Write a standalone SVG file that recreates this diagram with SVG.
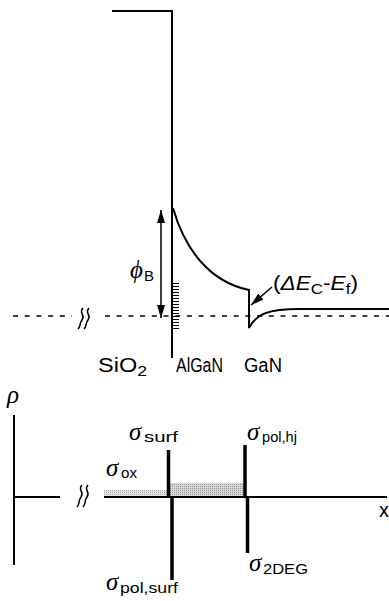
<svg xmlns="http://www.w3.org/2000/svg" width="389" height="601" viewBox="0 0 389 601">
<style>
.ln{fill:none;stroke:#000;stroke-width:2}
.thin{fill:none;stroke:#000;stroke-width:1.5}
.dash{fill:none;stroke:#000;stroke-width:1.5;stroke-dasharray:5 6.7}
.bar{fill:none;stroke:#000;stroke-width:3.5}
.tick{stroke:#000;stroke-width:1}
.t{font-family:"Liberation Sans",Arial,sans-serif;font-size:20px;fill:#000}
.s{font-family:"Liberation Sans",Arial,sans-serif;font-size:15px;fill:#000}
.g{font-family:"Liberation Serif","DejaVu Serif",serif;font-style:italic;font-size:25px;fill:#000}
.i{font-style:italic}
</style>
<defs>
<marker id="ah" viewBox="0 0 13 8" refX="13" refY="4" markerWidth="13" markerHeight="8" markerUnits="userSpaceOnUse" orient="auto">
<path d="M0,0 L13,4 L0,8 Z" fill="#000"/>
</marker>
<pattern id="dots1" width="2" height="2" patternUnits="userSpaceOnUse">
<rect width="2" height="2" fill="#e4e4e4"/><rect width="1" height="1" fill="#a8a8a8"/>
</pattern>
<pattern id="dots2" width="2" height="2" patternUnits="userSpaceOnUse">
<rect width="2" height="2" fill="#d8d8d8"/><rect width="1" height="1" fill="#999"/>
</pattern>
</defs>

<g id="band-diagram">
<path class="ln" d="M112,11 H172 V358"/>
<path class="ln" d="M173,208 C185,250 210,282 249,290 V328 C256,314 268,309 300,309 H389"/>
<g id="fermi">
<path class="dash" d="M13,316 H72"/>
<path class="dash" d="M105,316 H389"/>
<path class="thin" d="M83,308 C78,313 86,315 82,320 C79,324 81,326 78,329"/>
<path class="thin" d="M89,308 C84,313 92,315 88,320 C85,324 87,326 84,329"/>
</g>
<g id="traps">
<path class="tick" d="M173,283.5 h6 M173,286.5 h6 M173,289.5 h6 M173,292.5 h6 M173,295.5 h6 M173,298.5 h6 M173,301.5 h6 M173,304.5 h6 M173,307.5 h6 M173,310.5 h6 M173,313.5 h6 M173,316.5 h6 M173,319.5 h6 M173,322.5 h6 M173,325.5 h6 M173,328.5 h6"/>
</g>
<g id="phiB">
<line class="thin" x1="161" y1="260" x2="161" y2="210" marker-end="url(#ah)"/>
<line class="thin" x1="161" y1="260" x2="161" y2="318" marker-end="url(#ah)"/>
<text class="g" x="130" y="278" font-size="23">ϕ</text>
<text class="s" x="144" y="281" textLength="10" lengthAdjust="spacingAndGlyphs">B</text>
</g>
<g id="dEc">
<line class="thin" x1="272" y1="287" x2="251" y2="305" marker-end="url(#ah)"/>
<text class="t" x="273" y="290" textLength="85" lengthAdjust="spacingAndGlyphs">(<tspan class="i">ΔE</tspan><tspan font-size="15" dy="4">C</tspan><tspan dy="-4">-</tspan><tspan class="i">E</tspan><tspan font-size="15" dy="4">f</tspan><tspan dy="-4">)</tspan></text>
</g>
<text class="t" x="98" y="372" textLength="49" lengthAdjust="spacingAndGlyphs">SiO<tspan font-size="15" dy="4">2</tspan></text>
<text class="t" x="176" y="372" textLength="47" lengthAdjust="spacingAndGlyphs">AlGaN</text>
<text class="t" x="244" y="372" textLength="38" lengthAdjust="spacingAndGlyphs">GaN</text>
</g>

<g id="charge-diagram">
<rect x="104" y="490" width="65" height="6" fill="url(#dots1)"/>
<rect x="170" y="483" width="74" height="13" fill="url(#dots2)"/>
<path class="ln" d="M14,415 V565"/>
<path class="ln" d="M14,497 H60"/>
<path class="ln" d="M104,497 H387"/>
<path class="thin" d="M82,485 C77,490 85,492 81,497 C78,501 80,504 77,507"/>
<path class="thin" d="M88,485 C83,490 91,492 87,497 C84,501 86,504 83,507"/>
<line class="bar" x1="168.5" y1="450" x2="168.5" y2="497"/>
<line class="bar" x1="172" y1="497" x2="172" y2="580"/>
<line class="bar" x1="245" y1="445" x2="245" y2="497"/>
<line class="bar" x1="247.5" y1="497" x2="247.5" y2="553"/>
<text class="g" x="7" y="403" font-size="27">ρ</text>
<text class="t" x="379" y="517" font-size="18">x</text>
<g id="sigma-surf"><text class="g" x="129" y="440">σ</text><text class="s" x="144" y="442" textLength="34" lengthAdjust="spacingAndGlyphs">surf</text></g>
<g id="sigma-pol-hj"><text class="g" x="247" y="440">σ</text><text class="s" x="262" y="442" textLength="35" lengthAdjust="spacingAndGlyphs">pol,hj</text></g>
<g id="sigma-ox"><text class="g" x="106" y="476">σ</text><text class="s" x="121" y="478" textLength="16" lengthAdjust="spacingAndGlyphs">ox</text></g>
<g id="sigma-2deg"><text class="g" x="249" y="571">σ</text><text class="s" x="263" y="574" textLength="45" lengthAdjust="spacingAndGlyphs">2DEG</text></g>
<g id="sigma-pol-surf"><text class="g" x="106" y="590">σ</text><text class="s" x="120" y="593" textLength="58" lengthAdjust="spacingAndGlyphs">pol,surf</text></g>
</g>
</svg>
